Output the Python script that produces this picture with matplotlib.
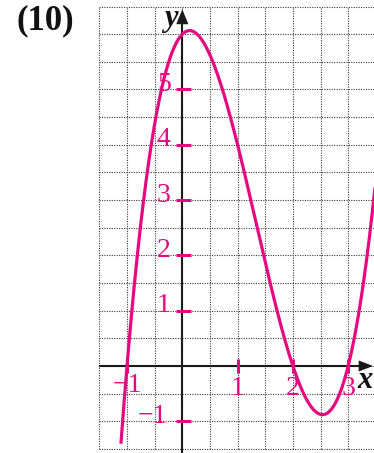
import numpy as np
import matplotlib
matplotlib.use("Agg")
import matplotlib.pyplot as plt
from matplotlib.patches import Polygon

# Cubic y = (x + 1)(x - 2)(x - 3)
roots = [-1, 2, 3]
lead_coef = 1.0
x_start, x_end = -1.11, 3.5

x_tick_vals = [-1, 1, 2, 3]
x_tick_labels = ["\u22121", "1", "2", "3"]
y_tick_vals = [-1, 1, 2, 3, 4, 5]
y_tick_labels = ["\u22121", "1", "2", "3", "4", "5"]

grid_x = np.arange(-1.5, 3.51, 0.5)
grid_y = np.arange(-1.5, 6.51, 0.5)

MAGENTA = "#E5097F"
AXIS = "#1a1a1a"
GRID = "#3a3a3a"
SERIF = ["Liberation Serif", "DejaVu Serif"]

fig = plt.figure(figsize=(3.74, 4.53), dpi=100)
ax = fig.add_axes([0, 0, 1, 1])
ax.set_xlim(-3.297, 3.467)
ax.set_ylim(-1.573, 6.618)
ax.axis("off")

# dotted grid
for gx in grid_x:
    ax.plot([gx, gx], [grid_y[0], grid_y[-1]], color=GRID, lw=0.8,
            ls=(0, (1, 1.2)), zorder=1)
for gy in grid_y:
    ax.plot([grid_x[0], grid_x[-1]], [gy, gy], color=GRID, lw=0.8,
            ls=(0, (1, 1.2)), zorder=1)

# axes with arrowheads
ax.plot([grid_x[0], 3.22], [0, 0], color=AXIS, lw=1.5, zorder=2,
        solid_capstyle="butt")
ax.plot([0, 0], [-1.6, 6.2], color=AXIS, lw=1.5, zorder=2,
        solid_capstyle="butt")
ax.add_patch(Polygon([[3.45, 0], [3.19, 0.1], [3.19, -0.1]],
                     closed=True, color=AXIS, zorder=2, lw=0))
ax.add_patch(Polygon([[0, 6.45], [-0.11, 6.18], [0.11, 6.18]],
                     closed=True, color=AXIS, zorder=2, lw=0))

# ticks
for tx in x_tick_vals:
    ax.plot([tx, tx], [-0.13, 0.13], color=MAGENTA, lw=2.2, zorder=3,
            solid_capstyle="butt")
for ty in y_tick_vals:
    ax.plot([-0.11, 0.16], [ty, ty], color=MAGENTA, lw=2.2, zorder=3,
            solid_capstyle="butt")

# tick labels
for tx, lab in zip(x_tick_vals, x_tick_labels):
    yb = -0.47 if tx < 0 else -0.52
    ax.text(tx + (0.01 if tx < 0 else 0), yb, lab, color=MAGENTA,
            fontsize=20, family=SERIF, ha="center", va="baseline", zorder=4)
for ty, lab in zip(y_tick_vals, y_tick_labels):
    xr = -0.277 if ty < 0 else -0.21
    ax.text(xr, ty - 0.03, lab, color=MAGENTA, fontsize=20, family=SERIF,
            ha="right", va="baseline", zorder=4)

# curve
xs = np.linspace(x_start, x_end, 600)
ys = lead_coef * np.polyval(np.poly(roots), xs)
ax.plot(xs, ys, color=MAGENTA, lw=2.3, zorder=5, solid_capstyle="butt")

# axis names and problem number
ax.text(-0.09, 6.15, "y", fontsize=22, family=SERIF, fontweight="bold",
        style="italic", ha="right", va="baseline", color="#111", zorder=6)
ax.text(3.31, -0.40, "x", fontsize=22, family=SERIF, fontweight="bold",
        style="italic", ha="center", va="baseline", color="#111", zorder=6)
ax.text(-3.0, 6.09, "(10)", fontsize=25, family=SERIF, fontweight="bold",
        ha="left", va="baseline", color="#111", zorder=6)

fig.savefig("out.png", dpi=100)
